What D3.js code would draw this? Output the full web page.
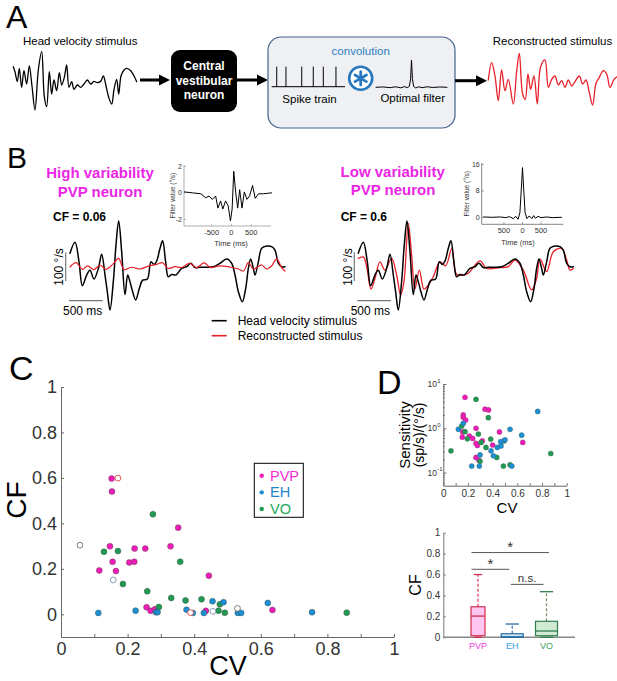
<!DOCTYPE html>
<html><head><meta charset="utf-8">
<script src="https://cdn.jsdelivr.net/npm/d3@7"></script>
<style>body{margin:0;background:#fff}svg{display:block}</style>
</head><body><svg id="c" width="617" height="681"></svg>
<script>
// ---------------- DATA ----------------
// Panel A: schematic traces
const aStimT = [0,5,12,18,25,32,40,48,56,65,75,85,93,100,108,115,122,130,138,145,153,160,167,175,182,192,202,212,222,232,242,252,262,270,278,286,295,302,310,316,323,332,340,352,362,370];
const aStimV = [40,25,-5,35,-22,28,-12,42,-18,-90,30,85,-50,-80,25,-42,0,-32,22,-15,8,45,-22,-5,-28,-15,-22,-12,0,-12,-4,-8,-4,12,-18,-52,-72,-28,2,-42,12,30,35,28,12,-5];
const aRecT = [0,10,20,30,40,50,60,75,85,93,103,111,119,127,137,147,157,170,180,190,200,210,220,230,240,250,260,273,283,293,303,313,323,333,345,355,365,377,386];
const aRecV = [0,52,12,-62,30,-32,2,-72,25,80,-42,-58,18,-28,12,-72,40,60,-22,2,12,-15,-2,-22,0,-18,-5,12,-12,0,-38,-75,-10,8,28,18,-22,2,10];
const aFiltT = [-1000,-800,-600,-450,-300,-200,-120,-60,-25,0,25,60,120,200,300,450,600,800,1000];
const aFiltV = [0,0.2,-0.2,0.3,-0.3,0.4,-0.2,0.6,5,16,5,0.5,-0.4,0.3,-0.2,0.3,-0.1,0.2,0];
const spikeTimes = [50,142,299,414,514,640];

// Panel B: head velocity stimulus (ms, deg/s) and reconstructions
const stimT = [0,77,138,189,255,306,367,434,485,536,571,612,663,704,745,791,842,883,918,959,1005,1061,1112,1184,1240,1286,1327,1378,1418,1464,1505,1556,1622,1709,1786,1847,1913,1990,2092,2194,2296,2398,2474,2526,2577,2638,2689,2730,2765,2806,2832,2883,2934,3010,3087,3138,3189,3240,3291];
const stimV = [47,85,17,-66,-29,-12,-43,-6,43,-29,-87,-151,-52,76,159,52,-97,-29,-52,-87,-116,-76,-47,-43,17,8,20,64,90,17,-35,-27,-29,-6,0,12,-3,-2,-2,0,12,27,12,-29,-87,-122,-76,-6,27,-6,-29,17,64,72,70,58,12,0,0];
const recLoT = [0,92,189,270,367,459,551,653,745,827,944,1071,1199,1327,1413,1505,1607,1709,1826,1939,2051,2153,2296,2449,2577,2653,2730,2806,2934,3010,3087,3163,3240,3291];
const recLoV = [-1,14,-9,3,-10,6,-9,8,29,-10,-2,-8,2,8,14,-6,0,-3,12,-3,13,-3,3,-1,-8,-15,14,-8,6,-8,3,27,-3,-15];
const recHiT = [0,77,128,194,255,332,408,510,587,648,699,765,816,867,934,1005,1071,1148,1250,1337,1429,1505,1607,1684,1862,1964,2168,2296,2398,2525,2653,2730,2781,2883,2985,3112,3189,3240,3291];
const recHiV = [29,34,0,-78,-41,17,-12,29,-29,-99,-52,151,41,-78,-12,-78,-64,-35,17,3,62,-27,-29,-23,20,-6,-3,0,23,-12,-81,-41,27,-17,52,64,23,-12,-6];
// inset filters (ms, deg/s)
const fLoT = [-1190,-983,-775,-650,-567,-483,-400,-342,-275,-217,-150,-83,-25,17,58,108,158,208,267,325,392,458,533,600,683,808,1017];
const fLoV = [0.07,0,-0.07,-0.37,-0.24,-0.49,-0.24,-1.15,-0.61,-1.22,-0.61,-0.98,-2.12,-1.22,1.63,0,-1.15,0.24,-1.15,0.07,-0.49,-0.24,0.56,-0.41,-0.07,-0.07,0];
const fHiT = [-1050,-800,-600,-450,-350,-250,-180,-120,-70,-35,0,35,70,120,180,250,300,350,420,500,650,800,1050];
const fHiV = [0.2,0.1,0.2,0,0.3,-0.3,0.4,-0.5,1.5,8,15,8,1.5,-0.3,0.5,-0.3,0.6,-0.2,0.4,0,0.2,0,0.1];

// Panel C: CV vs CF
const pvpCV = [0.152,0.153,0.115,0.147,0.155,0.165,0.205,0.220,0.221,0.253,0.257,0.269,0.282,0.329,0.352,0.435,0.444,0.635];
const pvpCF = [0.597,0.540,0.193,0.299,0.231,0.190,0.228,0.231,0.289,0.289,0.031,0.015,0.022,0.299,0.381,0.015,0.170,0.019];
const ehCV = [0.112,0.224,0.285,0.290,0.377,0.396,0.429,0.455,0.488,0.531,0.541,0.621,0.754];
const ehCF = [0.006,0.016,0.009,0.009,0.020,0.006,0.006,0.057,0.053,0.006,0.006,0.050,0.009];
const voCV = [0.129,0.171,0.186,0.259,0.276,0.294,0.331,0.358,0.374,0.422,0.473,0.477,0.492,0.858];
const voCF = [0.275,0.278,0.133,0.101,0.440,0.032,0.072,0.231,0.061,0.066,0.016,0.044,0.007,0.007];
const openCV = [0.057,0.157,0.171,0.389,0.456,0.530];
const openCF = [0.304,0.151,0.599,0.007,0.013,0.026];
const openGroup = ["VO","EH","PVP","PVP","EH","VO"];
const legendLabels = ["PVP","EH","VO"];

// Panel D top: sensitivity vs CV
const sensPvpCV = [0.176,0.338,0.367,0.162,0.162,0.181,0.265,0.157,0.455,0.154,0.211,0.238,0.316,0.265,0.644,0.276,0.400,0.265,0.289];
const sensPvp = [5.0,2.7,2.6,2.0,1.78,1.54,1.0,0.83,0.83,0.63,0.67,0.59,0.52,0.46,0.48,0.41,0.42,0.22,0.19];
const sensEhCV = [0.765,0.162,0.122,0.541,0.635,0.500,0.465,0.438,0.468,0.387,0.298,0.406,0.230,0.292,0.555];
const sensEh = [2.4,1.3,0.95,0.95,0.70,0.55,0.50,0.37,0.40,0.31,0.25,0.24,0.14,0.14,0.14];
const sensVoCV = [0.265,0.365,0.149,0.176,0.284,0.195,0.384,0.492,0.306,0.346,0.062,0.871,0.433,0.298,0.487,0.541];
const sensVo = [4.5,1.74,1.12,0.84,0.74,0.58,0.57,0.52,0.48,0.37,0.31,0.27,0.22,0.18,0.14,0.15];

// Panel D bottom: CF box plots
const boxCats = ["PVP","EH","VO"];
const boxLow = [0,0,0];
const boxQ1 = [0.015,0,0.015];
const boxMed = [0.203,0.005,0.06];
const boxQ3 = [0.292,0.034,0.153];
const boxHigh = [0.60,0.127,0.436];
const sigFrom = ["PVP","PVP","EH"];
const sigTo = ["VO","EH","VO"];
const sigLevel = [0.81,0.65,0.506];
const sigText = ["*","*","n.s."];

// ---------------- STYLE ----------------
const F = '"Liberation Sans", Arial, Helvetica, sans-serif';
const COL = {PVP:"#f01cb8", EH:"#1b8fd2", VO:"#1e9a52"};
const OPEN = {PVP:"#e04a4a", EH:"#7a8fae", VO:"#6e7460"};
const LEG = {PVP:"#f02ad6", EH:"#1f84c8", VO:"#22a85a"};
const MAG = "#ea26e4";
const RED = "#e8202a";

const svg = d3.select("#c").attr("font-family", F);

function text(x, y, s, size, o = {}) {
  const t = svg.append("text").attr("x", x).attr("y", y).attr("font-size", size).text(s);
  Object.entries(o).forEach(([k, v]) => t.attr(k, v));
  return t;
}
function line(x1, y1, x2, y2, col, w, o = {}) {
  const l = svg.append("line").attr("x1", x1).attr("y1", y1).attr("x2", x2).attr("y2", y2)
    .attr("stroke", col).attr("stroke-width", w);
  Object.entries(o).forEach(([k, v]) => l.attr(k, v));
  return l;
}
function arrow(x1, x2, y) {
  line(x1, y, x2 - 9, y, "#000", 3);
  svg.append("path").attr("d", `M${x2},${y}L${x2 - 11},${y - 5.5}L${x2 - 11},${y + 5.5}Z`).attr("fill", "#000");
}
const smooth = d3.curveCatmullRom.alpha(0.5);
function trace(T, V, x, y, color, w, c = smooth) {
  svg.append("path").datum(T.map((t, i) => [t, V[i]]))
    .attr("d", d3.line().x(d => x(d[0])).y(d => y(d[1])).curve(c))
    .attr("fill", "none").attr("stroke", color).attr("stroke-width", w)
    .attr("stroke-linejoin", "round").attr("stroke-linecap", "round");
}
function styleAxis(g, size, lineCol = "#666", txtCol = "#333") {
  g.attr("font-family", F).attr("font-size", size);
  g.select(".domain").attr("stroke", lineCol);
  g.selectAll(".tick line").attr("stroke", lineCol);
  g.selectAll(".tick text").attr("fill", txtCol);
}
const fmt = d => String(+(+d).toFixed(1));

// ---------------- PANEL A ----------------
text(6, 28, "A", 32);
text(23, 45, "Head velocity stimulus", 11.5);
const xA1 = d3.scaleLinear([0, 370], [13.3, 136.7]);
const yA = d3.scaleLinear([-90, 90], [110, 50]);
trace(aStimT, aStimV, xA1, yA, "#000", 1.3);
arrow(140, 170, 80);
svg.append("rect").attr("x", 171).attr("y", 50).attr("width", 66).attr("height", 62).attr("rx", 9).attr("fill", "#000");
["Central", "vestibular", "neuron"].forEach((s, i) =>
  text(204, 70 + i * 14.5, s, 12, {"text-anchor": "middle", "font-weight": "bold", fill: "#fff"}));
arrow(237, 268, 80);
svg.append("rect").attr("x", 268).attr("y", 37).attr("width", 187).attr("height", 91).attr("rx", 13)
  .attr("fill", "#eef0f3").attr("stroke", "#45628e").attr("stroke-width", 1.2);
text(360.7, 55, "convolution", 11.5, {"text-anchor": "middle", fill: "#2f7fc1"});
// spike train
const xSp = d3.scaleLinear([0, 730], [271.7, 345]);
line(271.7, 86.7, 345, 86.7, "#000", 1);
spikeTimes.forEach(t => line(xSp(t), 66.7, xSp(t), 86.7, "#000", 1));
text(309.5, 103, "Spike train", 11.5, {"text-anchor": "middle"});
// convolution symbol
svg.append("circle").attr("cx", 360.7).attr("cy", 78.3).attr("r", 11.5).attr("fill", "#fff")
  .attr("stroke", "#2878c0").attr("stroke-width", 2.6);
[90, 30, 150].forEach(a => {
  const r = a * Math.PI / 180, dx = 6.6 * Math.cos(r), dy = 6.6 * Math.sin(r);
  line(360.7 - dx, 78.3 - dy, 360.7 + dx, 78.3 + dy, "#2878c0", 2.8, {"stroke-linecap": "round"});
});
// optimal filter
const xAF = d3.scaleLinear([-1000, 1000], [376, 447]);
const yAF = d3.scaleLinear([0, 16], [87.3, 60]);
trace(aFiltT, aFiltV, xAF, yAF, "#000", 1, d3.curveLinear);
text(412.7, 102, "Optimal filter", 11.5, {"text-anchor": "middle"});
arrow(455, 487, 80.7);
text(492.7, 45, "Reconstructed stimulus", 11.5);
const xA2 = d3.scaleLinear([0, 386], [488.3, 617]);
trace(aRecT, aRecV, xA2, yA, RED, 1.3);

// ---------------- PANEL B ----------------
text(7, 168, "B", 30);
text(100, 177.7, "High variability", 15, {"text-anchor": "middle", "font-weight": "bold", fill: MAG});
text(100, 196.5, "PVP neuron", 15, {"text-anchor": "middle", "font-weight": "bold", fill: MAG});
text(392.7, 176.7, "Low variability", 15, {"text-anchor": "middle", "font-weight": "bold", fill: MAG});
text(393, 195, "PVP neuron", 15, {"text-anchor": "middle", "font-weight": "bold", fill: MAG});
text(53, 221, "CF = 0.06", 12, {"font-weight": "bold"});
text(340.7, 221, "CF = 0.6", 12, {"font-weight": "bold"});

const xBL = d3.scaleLinear([0, 3291], [70, 285]);
const xBR = d3.scaleLinear([0, 3291], [358.3, 573.3]);
const yBm = d3.scaleLinear([-200, 200], [324.1, 209.3]);
trace(stimT, stimV, xBL, yBm, "#000", 1.5);
trace(recLoT, recLoV, xBL, yBm, RED, 1.2);
trace(recHiT, recHiV, xBR, yBm, RED, 1.3);
trace(stimT, stimV, xBR, yBm, "#000", 1.5);

// scale bars
[[xBL, 65.7, 63, 63], [xBR, 354.3, 352, 350.7]].forEach(([xs, vx, lx, tx]) => {
  line(vx, yBm(50), vx, yBm(-50), "#777", 1.2);
  line(xs(0) - 1, 300.7, xs(500), 300.7, "#777", 1.2);
  text(lx, 267, "100 °/s", 12, {"text-anchor": "middle", transform: `rotate(-90,${lx},267)`});
  text(tx, 315, "500 ms", 12);
});

// insets
function inset(xs, ys, T, V, yTicks, xTicks, xLabels, yLabX, timeX, timeY, axCol) {
  const [x0, x1] = xs.range(), [y0, y1] = ys.range();
  line(x0, y1, x0, y0, axCol, 0.8);
  line(x0, y0, x1, y0, axCol, 0.8);
  yTicks.forEach(v => {
    line(x0, ys(v), x0 + 2, ys(v), axCol, 0.7);
    text(x0 - 2, ys(v) + 2.5, String(v), 7, {"text-anchor": "end", fill: "#333"});
  });
  xTicks.forEach((v, i) => {
    line(xs(v), y0, xs(v), y0 - 2, axCol, 0.7);
    text(xs(v), y0 + 8.5, xLabels[i], 7.5, {"text-anchor": "middle", fill: "#333"});
  });
  text(timeX, timeY, "Time (ms)", 7.5, {"text-anchor": "middle", fill: "#333"});
  const cy = (y0 + y1) / 2;
  text(yLabX, cy, "Filter value (°/s)", 6.5, {"text-anchor": "middle", fill: "#333", transform: `rotate(-90,${yLabX},${cy})`});
  trace(T, V, xs, ys, "#000", 1, d3.curveLinear);
}
const xIL = d3.scaleLinear([-1200, 1000], [184, 271]);
const yIL = d3.scaleLinear([-2.5, 2.1], [226, 165]);
inset(xIL, yIL, fLoT, fLoV, [2, 0, -2], [-500, 0, 500], ["-500", "0", "500"], 175, 231, 246, "#999");
const xIR = d3.scaleLinear([-1100, 1100], [481.7, 563.3]);
const yIR = d3.scaleLinear([-2, 16.3], [224.3, 163.3]);
inset(xIR, yIR, fHiT, fHiV, [16, 8, 0], [-500, 0, 500], ["500", "0", "500"], 469, 518, 244.5, "#666");

// B legend
line(211.7, 320.7, 226.7, 320.7, "#000", 1.6);
text(237.7, 325, "Head velocity stimulus", 12);
line(211.7, 335.7, 226.7, 335.7, RED, 1.6);
text(237.7, 340, "Reconstructed stimulus", 12);

// ---------------- PANEL C ----------------
text(9, 380, "C", 34);
const xC = d3.scaleLinear([0, 1], [61, 394]);
const yC = d3.scaleLinear([-0.1, 1], [637, 387]);
const gxC = svg.append("g").attr("transform", "translate(0,637)")
  .call(d3.axisBottom(xC).tickValues(d3.range(11).map(i => i / 10)).tickSizeInner(-3).tickSizeOuter(0).tickPadding(5)
    .tickFormat(d => (Math.round(d * 10) % 2 === 0 ? fmt(d) : "")));
styleAxis(gxC, 18);
const gyC = svg.append("g").attr("transform", "translate(61,0)")
  .call(d3.axisLeft(yC).tickValues([0, 0.2, 0.4, 0.6, 0.8, 1]).tickSizeInner(-3).tickSizeOuter(0).tickPadding(4).tickFormat(fmt));
styleAxis(gyC, 18);
text(26, 500, "CF", 28, {"text-anchor": "middle", transform: "rotate(-90,26,500)"});
text(228, 675, "CV", 27, {"text-anchor": "middle"});

const gC = svg.append("g");
[[pvpCV, pvpCF, "PVP"], [voCV, voCF, "VO"], [ehCV, ehCF, "EH"]].forEach(([xs, ys, g]) => {
  gC.append("g").selectAll("circle").data(xs).join("circle")
    .attr("cx", d => xC(d)).attr("cy", (d, i) => yC(ys[i])).attr("r", 3)
    .attr("fill", COL[g]).attr("stroke", "#444").attr("stroke-width", 0.4);
});
gC.append("g").selectAll("circle").data(openCV).join("circle")
  .attr("cx", d => xC(d)).attr("cy", (d, i) => yC(openCF[i])).attr("r", 2.9)
  .attr("fill", "#fff").attr("stroke", (d, i) => OPEN[openGroup[i]]).attr("stroke-width", 0.9);

// legend
svg.append("rect").attr("x", 254.3).attr("y", 463.3).attr("width", 49).attr("height", 54)
  .attr("fill", "#fff").attr("stroke", "#000").attr("stroke-width", 1);
legendLabels.forEach((g, i) => {
  const y = 475.7 + i * 16.65;
  svg.append("circle").attr("cx", 261.7).attr("cy", y).attr("r", 2.2).attr("fill", COL[g]);
  text(270, y + 5, g, 14.5, {fill: LEG[g]});
});

// ---------------- PANEL D (top) ----------------
text(377, 394, "D", 34);
const xD = d3.scaleLinear([0, 1], [443.3, 566.7]);
const yD = d3.scaleLog([0.0506, 10], [485.7, 384]);
const gxD = svg.append("g").attr("transform", "translate(0,485.7)")
  .call(d3.axisBottom(xD).tickValues(d3.range(11).map(i => i / 10)).tickSizeInner(-2.5).tickSizeOuter(0).tickPadding(4)
    .tickFormat(d => (Math.round(d * 10) % 2 === 0 ? fmt(d) : "")));
styleAxis(gxD, 10);
const minor = [];
[0.01, 0.1, 1].forEach(b => d3.range(2, 10).forEach(m => { const v = b * m; if (v > 0.0506 && v < 10) minor.push(v); }));
const gyD = svg.append("g").attr("transform", "translate(443.3,0)")
  .call(d3.axisLeft(yD).tickValues([0.1, 1, 10].concat(minor)).tickSizeInner(-1.5).tickSizeOuter(0).tickFormat(""));
styleAxis(gyD, 9);
gyD.selectAll(".tick line").filter(d => [0.1, 1, 10].includes(d)).attr("x2", 3);
[[0.1, "-1"], [1, "0"], [10, "1"]].forEach(([v, e]) => {
  text(437, yD(v) + 3, "10", 8.5, {"text-anchor": "end", fill: "#333"});
  svg.append("text").attr("x", 437.3).attr("y", yD(v) - 1.5).attr("font-size", 6).attr("fill", "#333").text(e);
});
text(410, 435, "Sensitivity", 15, {"text-anchor": "middle", transform: "rotate(-90,410,435)"});
text(424, 435, "(sp/s)/(°/s)", 14, {"text-anchor": "middle", transform: "rotate(-90,424,435)"});
text(507, 513.3, "CV", 15, {"text-anchor": "middle"});
[[sensPvpCV, sensPvp, "PVP"], [sensVoCV, sensVo, "VO"], [sensEhCV, sensEh, "EH"]].forEach(([xs, ys, g]) => {
  svg.append("g").selectAll("circle").data(xs).join("circle")
    .attr("cx", d => xD(d)).attr("cy", (d, i) => yD(ys[i])).attr("r", 2.6)
    .attr("fill", COL[g]).attr("stroke", "#555").attr("stroke-width", 0.3);
});

// ---------------- PANEL D (bottom) ----------------
const yBx = d3.scaleLinear([0, 1], [637.3, 532.7]);
const xBx = d3.scalePoint(boxCats, [478, 546.5]);
const gyB = svg.append("g").attr("transform", "translate(443.3,0)")
  .call(d3.axisLeft(yBx).tickValues([0, 0.2, 0.4, 0.6, 0.8, 1]).tickSizeInner(-2.5).tickSizeOuter(0).tickPadding(3).tickFormat(fmt));
styleAxis(gyB, 10, "#777");
line(443.3, 637.3, 575, 637.3, "#888", 1.5);
text(421, 585, "CF", 16, {"text-anchor": "middle", transform: "rotate(-90,421,585)"});

const BOX = {
  PVP: {w: 14, fill: "#ffc6f2", stroke: "#d2304f", wh: "#d84262", lab: "#f03ce0"},
  EH: {w: 22, fill: "#cde8f7", stroke: "#2a6aa0", wh: "#4a78a8", lab: "#3aa2e2"},
  VO: {w: 22, fill: "#d0ead4", stroke: "#2f7f4f", wh: "#8a9070", lab: "#3aa062"}
};
boxCats.forEach((c, i) => {
  const s = BOX[c], cx = xBx(c);
  line(cx, yBx(boxQ3[i]), cx, yBx(boxHigh[i]), s.wh, 1.3, {"stroke-dasharray": "3,2"});
  line(cx, yBx(boxQ1[i]), cx, yBx(boxLow[i]), s.wh, 1.3, {"stroke-dasharray": "3,2"});
  line(cx - s.w * 0.3, yBx(boxHigh[i]), cx + s.w * 0.3, yBx(boxHigh[i]), s.stroke, 1.3);
  line(cx - s.w * 0.3, yBx(boxLow[i]), cx + s.w * 0.3, yBx(boxLow[i]), s.stroke, 1.3);
  svg.append("rect").attr("x", cx - s.w / 2).attr("y", yBx(boxQ3[i]))
    .attr("width", s.w).attr("height", Math.max(1, yBx(boxQ1[i]) - yBx(boxQ3[i])))
    .attr("fill", s.fill).attr("stroke", s.stroke).attr("stroke-width", 1.2);
  line(cx - s.w / 2, yBx(boxMed[i]), cx + s.w / 2, yBx(boxMed[i]), s.stroke, 1.3);
  text(cx, 649, c, 9, {"text-anchor": "middle", fill: s.lab});
});
sigFrom.forEach((a, i) => {
  const xa = xBx(a) + (a === "PVP" ? -6.5 : -1.5), xb = xBx(sigTo[i]) + (sigTo[i] === "VO" && a === "PVP" ? 2.5 : -3);
  const y = yBx(sigLevel[i]);
  line(xa, y, xb, y, "#555", 1);
  const isStar = sigText[i] === "*";
  text((xa + xb) / 2, isStar ? y - 0.5 : y - 2.5, sigText[i], isStar ? 15 : 11.5, {"text-anchor": "middle", fill: "#333"});
});
</script></body></html>
